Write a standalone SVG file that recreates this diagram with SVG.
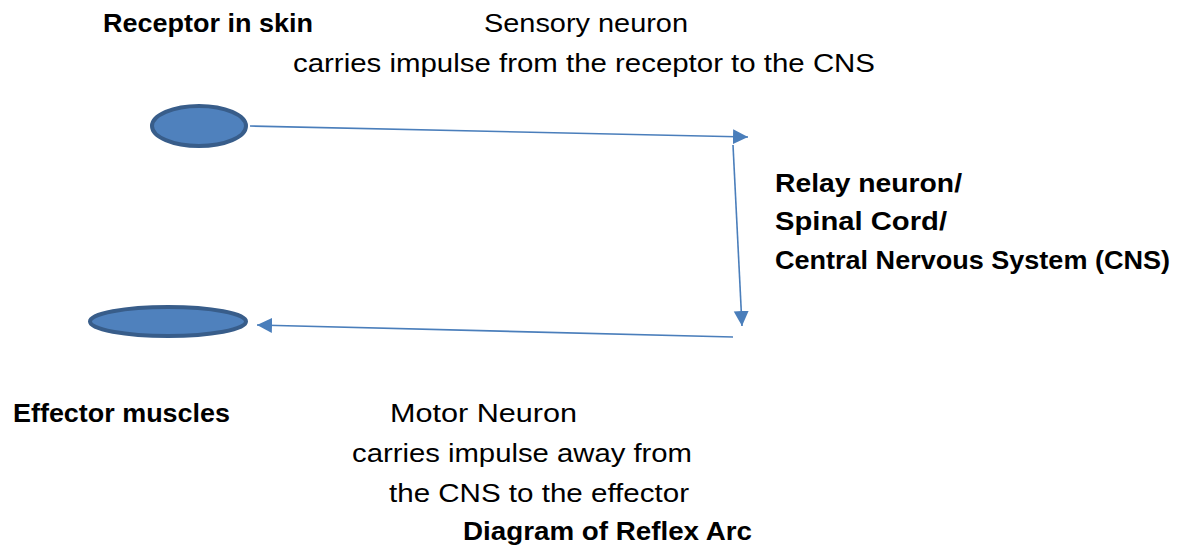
<svg xmlns="http://www.w3.org/2000/svg" width="1177" height="547" viewBox="0 0 1177 547">
<defs>
<style>
.t{font-family:"Liberation Sans",Arial,sans-serif;font-size:25px;fill:#000}
.b{font-weight:bold}
.node{fill:#4f81bd;stroke:#385d8a;stroke-width:4}
.c{fill:none;stroke:#4a7ebb;stroke-width:1.6}
</style>
<marker id="ah" markerUnits="userSpaceOnUse" markerWidth="16" markerHeight="16" refX="15" refY="7.5" orient="auto">
<path d="M0,0 L15,7.5 L0,15 z" fill="#4a7ebb"/>
</marker>
</defs>
<rect width="1177" height="547" fill="#fff"/>
<g id="connectors">
<line class="c" x1="250" y1="126" x2="748" y2="137" marker-end="url(#ah)"/>
<line class="c" x1="733" y1="145" x2="742" y2="326" marker-end="url(#ah)"/>
<line class="c" x1="733" y1="337" x2="257" y2="325" marker-end="url(#ah)"/>
</g>
<g id="receptor">
<ellipse class="node" cx="199" cy="126" rx="47" ry="20"/>
<text class="t b" x="103" y="32" textLength="210" lengthAdjust="spacingAndGlyphs">Receptor in skin</text>
</g>
<g id="sensory">
<text class="t" x="484" y="32" textLength="204" lengthAdjust="spacingAndGlyphs">Sensory neuron</text>
<text class="t" x="293" y="72" textLength="582" lengthAdjust="spacingAndGlyphs">carries impulse from the receptor to the CNS</text>
</g>
<g id="relay">
<text class="t b" x="775" y="192" textLength="187" lengthAdjust="spacingAndGlyphs">Relay neuron/</text>
<text class="t b" x="775" y="230" textLength="172" lengthAdjust="spacingAndGlyphs">Spinal Cord/</text>
<text class="t b" x="775" y="269" textLength="395" lengthAdjust="spacingAndGlyphs">Central Nervous System (CNS)</text>
</g>
<g id="effector">
<ellipse class="node" cx="168" cy="321.5" rx="78" ry="14.5"/>
<text class="t b" x="13" y="422" textLength="217" lengthAdjust="spacingAndGlyphs">Effector muscles</text>
</g>
<g id="motor">
<text class="t" x="390" y="422" textLength="187" lengthAdjust="spacingAndGlyphs">Motor Neuron</text>
<text class="t" x="352" y="462" textLength="340" lengthAdjust="spacingAndGlyphs">carries impulse away from</text>
<text class="t" x="389" y="502" textLength="300" lengthAdjust="spacingAndGlyphs">the CNS to the effector</text>
</g>
<g id="title">
<text class="t b" x="463" y="540" textLength="289" lengthAdjust="spacingAndGlyphs">Diagram of Reflex Arc</text>
</g>
</svg>
